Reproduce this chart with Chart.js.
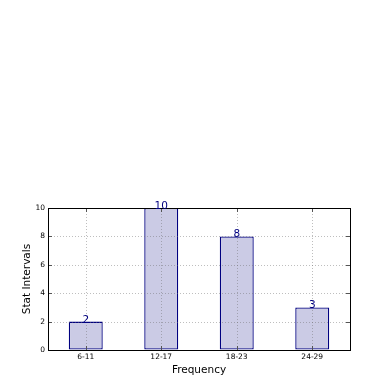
<!DOCTYPE html>
<html>
<head>
<meta charset="utf-8">
<script src="https://cdn.jsdelivr.net/npm/chart.js@4"></script>
<style>
html,body{margin:0;padding:0;background:#fff;}
#c{display:block;}
</style>
</head>
<body>
<canvas id="c" width="390" height="390"></canvas>
<script>
const categories = ["6-11", "12-17", "18-23", "24-29"];
const values = [2, 10, 8, 3];
const yTicks = [0, 2, 4, 6, 8, 10];

const FONT = "'DejaVu Sans', sans-serif";

const framePlugin = {
  id: 'frame',
  afterDatasetsDraw(chart) {
    const {ctx, chartArea: a, scales} = chart;
    const L = Math.round(a.left), R = Math.round(a.right), T = Math.round(a.top), B = Math.round(a.bottom);
    ctx.save();
    // grid on top of bars (matplotlib style)
    ctx.strokeStyle = 'rgba(110,110,110,0.45)';
    ctx.lineWidth = 1;
    ctx.setLineDash([1, 2]);
    ctx.beginPath();
    yTicks.forEach(v => {
      const y = Math.round(scales.y.getPixelForValue(v)) + 0.5;
      ctx.moveTo(L, y); ctx.lineTo(R, y);
    });
    categories.forEach((c, i) => {
      const x = Math.round(scales.x.getPixelForValue(i)) + 0.5;
      ctx.moveTo(x, T); ctx.lineTo(x, B);
    });
    ctx.stroke();
    ctx.setLineDash([]);
    // inward ticks
    ctx.strokeStyle = '#555';
    ctx.beginPath();
    yTicks.forEach(v => {
      const y = Math.round(scales.y.getPixelForValue(v)) + 0.5;
      ctx.moveTo(L, y); ctx.lineTo(L + 4, y);
      ctx.moveTo(R, y); ctx.lineTo(R - 4, y);
    });
    categories.forEach((c, i) => {
      const x = Math.round(scales.x.getPixelForValue(i)) + 0.5;
      ctx.moveTo(x, B); ctx.lineTo(x, B - 4);
      ctx.moveTo(x, T); ctx.lineTo(x, T + 4);
    });
    ctx.stroke();
    ctx.strokeStyle = '#000';
    ctx.strokeRect(L + 0.5, T + 0.5, R - L, B - T);
    // value labels
    ctx.fillStyle = '#000080';
    ctx.font = '10.5px ' + FONT;
    ctx.textAlign = 'center';
    ctx.textBaseline = 'alphabetic';
    const meta = chart.getDatasetMeta(0);
    meta.data.forEach((bar, i) => {
      ctx.fillText(String(values[i]), bar.x, bar.y + 1);
    });
    ctx.restore();
  }
};

new Chart(document.getElementById('c'), {
  type: 'bar',
  data: {
    labels: categories,
    datasets: [{
      data: values,
      backgroundColor: '#cbcbe5',
      borderColor: '#000080',
      borderWidth: 1.3,
      borderSkipped: false,
      categoryPercentage: 1,
      barPercentage: 0.45
    }]
  },
  options: {
    responsive: false,
    animation: false,
    devicePixelRatio: 1,
    layout: { padding: { top: 208, right: 40, left: 0, bottom: 0 } },
    plugins: { legend: { display: false }, tooltip: { enabled: false } },
    scales: {
      x: {
        offset: true,
        grid: { display: true, offset: false, color: 'rgba(0,0,0,0)', drawTicks: false },
        border: { display: false },
        ticks: { color: '#000', font: { size: 7.5, family: FONT }, padding: 3, maxRotation: 0 },
        title: { display: true, text: 'Frequency', color: '#000', font: { size: 10.5, family: FONT }, padding: { top: 0, bottom: 13 } },
        afterFit(s) { s.height = 40; }
      },
      y: {
        min: 0, max: 10,
        afterBuildTicks(s) { s.ticks = yTicks.map(v => ({ value: v })); },
        grid: { display: true, color: 'rgba(0,0,0,0)', drawTicks: false },
        border: { display: false },
        ticks: { color: '#000', font: { size: 7.5, family: FONT }, padding: 3 },
        title: { display: true, text: 'Stat Intervals', color: '#000', font: { size: 10.5, family: FONT }, padding: { top: 21, bottom: 0 } },
        afterFit(s) { s.width = 48; }
      }
    }
  },
  plugins: [framePlugin]
});
</script>
</body>
</html>
